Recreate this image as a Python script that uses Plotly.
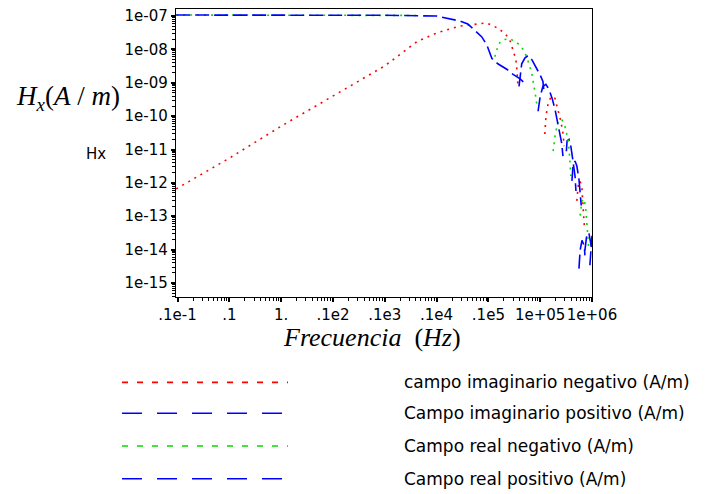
import plotly.graph_objects as go

# ---------------- data ----------------
# Campo imaginario negativo (A/m)  -- red dotted
f_im_neg = [0.0094, 0.1, 1, 10, 100, 417, 1000, 2800, 5500, 9300, 14500, 21000, 26000,
            29500, 34000, 35500, 37000, None,
            123000, 129000, 141000, 162000, 193000, 220000, 250000, 275000, 290000, None,
            510000, 540000, 590000, 640000, 670000, 710000]
h_im_neg = [6.6e-13, 5.5e-12, 5.0e-11, 3.9e-10, 3.2e-9, 1.7e-8, 3.1e-8, 5.0e-8, 5.8e-8,
            6.2e-8, 4.5e-8, 3.0e-8, 1.9e-8, 9.8e-9, 4.9e-9, 2.5e-9, 9.5e-10, None,
            2.9e-11, 9.8e-11, 2.2e-10, 3.9e-10, 3.4e-10, 1.6e-10, 7.1e-11, 3.1e-11, 1.26e-11, None,
            2.9e-13, 8.1e-13, 1.15e-12, 6.6e-13, 2.1e-13, 5.2e-14]

# Campo imaginario positivo (A/m)  -- blue long dash
f_im_pos = [39000, 41000, 44000, 51000, 58000, 69000, 87000, 100000, 113000, 118000, None,
            320000, 330000, 360000, 390000, 430000, 470000, 490000, None,
            730000, 790000, 870000, 910000, 1000000]
h_im_pos = [7.8e-10, 1.9e-9, 3.7e-9, 5.6e-9, 6.5e-9, 4.9e-9, 2.6e-9, 1.7e-9, 1.1e-9, 5.5e-10, None,
            8.9e-12, 1.8e-11, 2.0e-11, 1.26e-11, 4.5e-12, 1.6e-12, 5.7e-13, None,
            9.5e-15, 2.6e-14, 3.2e-14, 2.1e-14, 9.5e-15]

# Campo real negativo (A/m)  -- green dotted
f_re_neg = [0.0094, 0.1, 1, 10, 100, 420, None,
            13300, 14500, 15800, 19000, 23000, 26000, 32500, 41000, 47000, 55000, 63000,
            69000, 72000, 79000, 83000, 87000, None,
            178000, 193000, 220000, 260000, 300000, 350000, 375000, 390000, None,
            590000, 640000, 710000, 760000, 830000, 870000]
h_re_neg = [1.07e-7, 1.07e-7, 1.07e-7, 1.06e-7, 1.05e-7, 1.04e-7, None,
            6.0e-9, 1.04e-8, 1.47e-8, 1.94e-8, 2.1e-8, 2.1e-8, 1.7e-8, 1.37e-8, 9.8e-9, 6.0e-9,
            3.0e-9, 1.9e-9, 1.26e-9, 6.3e-10, 3.4e-10, 1.95e-10, None,
            8.9e-12, 2.5e-11, 7.1e-11, 8.0e-11, 5.0e-11, 1.8e-11, 4.5e-12, 1.6e-12, None,
            1.05e-13, 2.9e-13, 3.3e-13, 1.5e-13, 2.6e-14, 9.5e-15]

# Campo real positivo (A/m)  -- blue long dash
f_re_pos = [0.0094, 0.1, 1, 10, 100, 1000, 1580, 2800, 4000, 5500, 7400, 9300, 10700, 11700,
            15200, 23000, 28000, 41000, 51000, None,
            91000, 100000, 113000, 129000, 148000, 170000, 193000, 220000, 240000, 260000, 275000, None,
            410000, 430000, 470000, 510000, 560000, 590000, 620000, None,
            560000, 590000, 640000, 710000, 730000, None,
            910000, 950000, 1000000]
h_re_pos = [1.07e-7, 1.07e-7, 1.07e-7, 1.06e-7, 1.05e-7, 1.0e-7, 8.7e-8, 7.1e-8, 5.8e-8, 3.8e-8,
            2.4e-8, 1.37e-8, 7.4e-9, 5.3e-9, 3.7e-9, 2.5e-9, 1.9e-9, 1.3e-9, 9.5e-10, None,
            1.4e-10, 3.9e-10, 7.8e-10, 8.9e-10, 6.3e-10, 3.4e-10, 1.6e-10, 6.1e-11, 3.1e-11, 1.55e-11, 6.3e-12, None,
            1.15e-12, 3.2e-12, 4.5e-12, 3.2e-12, 1.3e-12, 5.7e-13, 2.1e-13, None,
            2.7e-15, 9.5e-15, 1.9e-14, 1.3e-14, 6.7e-15, None,
            3.4e-15, 1.3e-14, 2.6e-14]

series_names = ["campo imaginario negativo (A/m)", "Campo imaginario positivo (A/m)",
                "Campo real negativo (A/m)", "Campo real positivo (A/m)"]

x_tickvals = [0.01, 0.1, 1, 10, 100, 1000, 10000, 100000, 1000000]
x_ticktext = [".1e-1", ".1", "1.", ".1e2", ".1e3", ".1e4", ".1e5", "1e+05", "1e+06"]
y_tickvals = [1e-15, 1e-14, 1e-13, 1e-12, 1e-11, 1e-10, 1e-09, 1e-08, 1e-07]
y_ticktext = ["1e-15", "1e-14", "1e-13", "1e-12", "1e-11", "1e-10", "1e-09", "1e-08", "1e-07"]

# ---------------- styling / layout ----------------
W, H = 720, 494
PL, PR, PT, PB = 176, 592, 7, 297
RED, BLUE, GREEN = "#ff0000", "#0000ff", "#00dd00"
DOT = "2px,5px"
LONG = "14px,5px"


def px_x(px):
    return (px - PL) / (PR - PL)


def px_y(py):
    return (PB - py) / (PB - PT)


styles = [(RED, DOT), (BLUE, LONG), (GREEN, DOT), (BLUE, LONG)]
datasets = [(f_im_neg, h_im_neg), (f_im_pos, h_im_pos), (f_re_neg, h_re_neg), (f_re_pos, h_re_pos)]

fig = go.Figure()
for (fx, hy), name, (col, dash) in zip(datasets, series_names, styles):
    fig.add_trace(go.Scatter(x=fx, y=hy, mode="lines", name=name, connectgaps=False,
                             line=dict(color=col, width=1.6, dash=dash)))

minor_x = [k * 10.0 ** n for n in range(-3, 6) for k in range(2, 10)]
minor_y = [k * 10.0 ** n for n in range(-16, -6) for k in range(2, 10)]

tick_font = dict(family="DejaVu Sans", size=15, color="black")

fig.update_xaxes(type="log", range=[-2.03, 6.0], tickmode="array", tickvals=x_tickvals,
                 ticktext=x_ticktext, tickangle=0, ticks="outside", ticklen=4, tickwidth=1.5,
                 tickcolor="black",
                 minor=dict(tickvals=minor_x, ticks="outside", ticklen=3, tickwidth=1, tickcolor="black"),
                 showline=True, linecolor="black", linewidth=1.3, mirror=True, showgrid=False,
                 zeroline=False, tickfont=tick_font)
fig.update_yaxes(type="log", range=[-15.42, -6.79], tickmode="array", tickvals=y_tickvals,
                 ticktext=y_ticktext, ticks="outside", ticklen=4, tickwidth=1.5, tickcolor="black",
                 minor=dict(tickvals=minor_y, ticks="outside", ticklen=3, tickwidth=1, tickcolor="black"),
                 showline=True, linecolor="black", linewidth=1.3, mirror=True, showgrid=False,
                 zeroline=False, tickfont=tick_font)

annotations = [
    dict(text="<i>H</i><sub><i>x</i></sub>(<i>A</i> / <i>m</i>)", x=px_x(68), y=px_y(97),
         font=dict(family="Liberation Serif", size=27, color="black")),
    dict(text="Hx", x=px_x(96), y=px_y(153),
         font=dict(family="DejaVu Sans", size=15, color="black")),
    dict(text="<i>Frecuencia</i>  (<i>Hz</i>)", x=px_x(372), y=px_y(338),
         font=dict(family="Liberation Serif", size=26, color="black")),
]
shapes = []
row_y = [383, 414, 447, 480]
legend_dash = ["6px,9px", "20px,15px", "6px,9px", "20px,15px"]
for name, (col, _), ry, ld in zip(series_names, styles, row_y, legend_dash):
    shapes.append(dict(type="line", xref="paper", yref="paper", x0=px_x(122), x1=px_x(288),
                       y0=px_y(ry), y1=px_y(ry), line=dict(color=col, width=1.6, dash=ld)))
    annotations.append(dict(text=name, x=px_x(402), y=px_y(ry), xanchor="left",
                            font=dict(family="DejaVu Sans", size=17, color="black")))

for a in annotations:
    a.setdefault("xanchor", "center")
    a.update(xref="paper", yref="paper", yanchor="middle", showarrow=False)

fig.update_layout(width=W, height=H, margin=dict(l=PL, r=W - PR, t=PT, b=H - PB),
                  paper_bgcolor="white", plot_bgcolor="white", showlegend=False,
                  annotations=annotations, shapes=shapes)

fig.write_html("out.html")
